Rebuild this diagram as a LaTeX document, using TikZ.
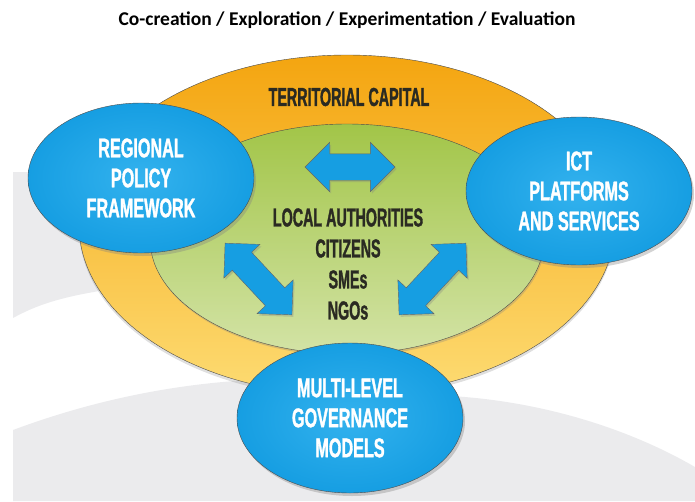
\documentclass[tikz,border=0pt]{standalone}
\usepackage{fontspec}
\setmainfont{Carlito}
\newfontfamily\bluefont[FakeStretch=0.6,BoldFeatures={FakeBold=1.2}]{Liberation Sans}
\newfontfamily\darkfont[FakeStretch=0.55,BoldFeatures={FakeBold=1.2}]{Liberation Sans}
\usetikzlibrary{shapes.geometric,shapes.arrows,shadows}
\definecolor{bgray}{HTML}{EBEBED}
\definecolor{caporange}{HTML}{F4A510}
\definecolor{capyellow}{HTML}{FDDB72}
\definecolor{coregreen}{HTML}{A2C548}
\definecolor{corelight}{HTML}{D3E3A6}
\definecolor{pillarblue}{HTML}{169EE2}
\definecolor{pillarlight}{HTML}{33B2EE}
\definecolor{textdark}{HTML}{2A2A22}

\begin{document}
\begin{tikzpicture}[x=1pt,y=-1pt,
  pillar/.style={ellipse,draw=black!70,thin,inner color=pillarlight,outer color=pillarblue,
    minimum width=226pt,minimum height=150pt,inner sep=0pt,align=center,text=white,
    font=\bluefont\bfseries\fontsize{27}{30}\selectfont,
    drop shadow={opacity=0.35,shadow xshift=2pt,shadow yshift=-3pt}},
  link/.style={double arrow,fill=pillarblue,draw=black!60,thin,inner xsep=0pt,inner ysep=13pt,
    double arrow head extend=11.5pt,
    drop shadow={opacity=0.3,shadow xshift=1.5pt,shadow yshift=-2pt}}]
\useasboundingbox (0,0) rectangle (695,501);
% the grey swooshes in the background
\fill[bgray] (13,172) -- (120,172) -- (120,288) .. controls (60,296) and (35,306) .. (13,318) -- cycle;
\fill[bgray] (13,430) .. controls (80,405) and (160,385) .. (250,380) -- (465,397)
  .. controls (560,405) and (640,435) .. (695,467) -- (695,501) -- (13,501) -- cycle;
% the title
\node[font=\bfseries\fontsize{19.5}{23}\selectfont] (title) at (347,20)
  {Co-creation / Exploration / Experimentation / Evaluation};
% the two rings
\node[ellipse,draw=black!70,top color=caporange,bottom color=capyellow,minimum width=536pt,
  minimum height=340pt,drop shadow={opacity=0.25,shadow xshift=0pt,shadow yshift=-3pt}] (capital) at (347,225) {};
\node[ellipse,draw=black!70,top color=coregreen,bottom color=corelight,minimum width=394pt,
  minimum height=230pt,drop shadow={opacity=0.3,shadow xshift=1pt,shadow yshift=-2pt}] (core) at (347,239) {};
\node[font=\darkfont\bfseries\fontsize{26}{30}\selectfont,text=textdark] (capitallabel) at (349,97) {TERRITORIAL CAPITAL};
% the actors in the middle
\node[font=\darkfont\bfseries\fontsize{26}{31}\selectfont,text=textdark,align=center] (actors) at (348,264)
  {LOCAL AUTHORITIES\\CITIZENS\\SMEs\\NGOs};
% the arrows
\foreach \name/\x/\y/\len/\ang in {across/350/167/90/0, leftlink/258.5/279/98/-47, rightlink/432.5/279/98/47}
  \node[link,minimum height=\len pt,rotate=\ang] (\name) at (\x,\y) {};
% the three pillars
\node[pillar] (regional) at (141,178) {REGIONAL\\POLICY\\FRAMEWORK};
\node[pillar,minimum height=148pt] (ict) at (579,191) {ICT\\PLATFORMS\\AND SERVICES};
\node[pillar] (governance) at (350,418) {MULTI-LEVEL\\GOVERNANCE\\MODELS};
\end{tikzpicture}
\end{document}
